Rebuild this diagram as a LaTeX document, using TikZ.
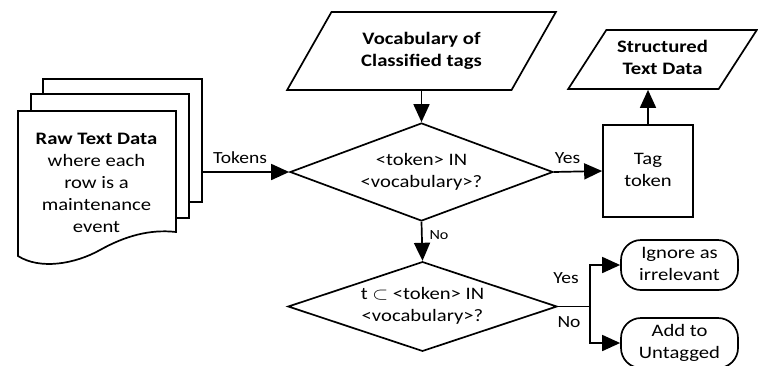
\documentclass[tikz,border=0pt]{standalone}
\usepackage{fontspec}
\usepackage{graphicx}
\setmainfont{Carlito}
\usetikzlibrary{shapes.geometric,arrows.meta,calc}
\newcommand\hs[1]{\scalebox{1.18}[1]{\begin{tabular}{@{}c@{}}#1\end{tabular}}}
\begin{document}
\begin{tikzpicture}[x=1pt,y=-1pt, line width=1.7pt,
 every node/.style={font=\fontsize{17.5}{22}\selectfont, align=center, inner sep=0pt},
 arr/.style={-{Triangle[length=18pt,width=16pt]}},
 dia/.style={draw, diamond, aspect=2.7, fill=white},
 para/.style={draw, trapezium, trapezium left angle=#1, trapezium right angle=180-#1, trapezium stretches=true},
 term/.style={draw, rounded corners=20pt, minimum width=117pt, minimum height=50pt},
 lbl/.style={font=\fontsize{17}{20}\selectfont, anchor=base},
 slbl/.style={font=\fontsize{14}{16}\selectfont, anchor=base},
 page/.style={draw, fill=white},
]
\clip (0,0) rectangle (758,365);
% document stack
\draw[page] (43,79) rectangle (202,202);
\draw[page] (31,94) rectangle (189,218);
\draw[page] (18,111) -- (176,111) -- (176,232)
  .. controls (150,229) and (125,236) .. (100,250)
  .. controls (75,264) and (40,270) .. (18,256) -- cycle;
\node (raw) at (96.5,184) {\hs{\textbf{Raw Text Data}\\where each\\row is a\\maintenance\\event}};
\coordinate (tk) at (202,172);
% shapes
\node[para=56, minimum width=269pt, minimum height=78pt] (voc) at (421.5,51) {\hs{\textbf{Vocabulary of}\\\textbf{Classified tags}}};
\node[para=55, minimum width=189pt, minimum height=59pt] (std) at (662.5,59.5) {\hs{\textbf{Structured}\\\textbf{Text Data}}};
\node[dia, minimum width=263pt, minimum height=98pt] (d1) at (421.5,172) {\hs{<token> IN\\<vocabulary>?}};
\node[dia, minimum width=269pt, minimum height=87pt] (d2) at (422.5,306.5) {\hs{t $\subset$ <token> IN\\<vocabulary>?}};
\node[draw, minimum width=90pt, minimum height=92pt] (tag) at (648,171) {\hs{Tag\\token}};
\node[term] (ign) at (679.5,265) {\hs{Ignore as\\irrelevant}};
\node[term] (add) at (679.5,343) {\hs{Add to\\Untagged}};
% connectors
\draw[arr] (tk) -- (d1.west);
\draw[arr] (d1.north |- voc.south) -- (d1.north);
\draw[arr] (d1.east) -- (tag.west);
\draw[arr] (tag.north) -- (tag.north |- std.south);
\draw[arr] (d1.south) -- (d2.north);
\coordinate (br) at (590,306.5);
\draw (d2.east) -- (br);
\draw[arr] (br) |- (ign.west);
\draw[arr] (br) |- (add.west);
% labels
\node[lbl] at (240,163.5) {\scalebox{1.15}[1]{Tokens}};
\node[lbl] at (567.5,163) {\scalebox{1.15}[1]{Yes}};
\node[slbl] at (439,239) {\scalebox{1.15}[1]{No}};
\node[lbl] at (566,283.5) {\scalebox{1.15}[1]{Yes}};
\node[lbl] at (569,327) {\scalebox{1.15}[1]{No}};
\end{tikzpicture}
\end{document}
